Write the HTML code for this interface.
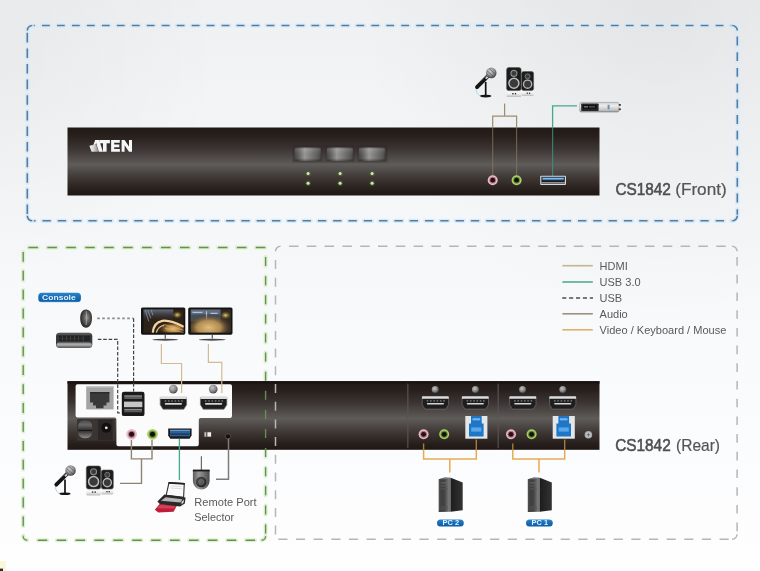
<!DOCTYPE html>
<html><head><meta charset="utf-8">
<style>
html,body{margin:0;padding:0;width:760px;height:571px;overflow:hidden;background:#f4f5f7;}
svg{display:block;font-family:"Liberation Sans",sans-serif;will-change:transform;}
</style></head>
<body>
<svg width="760" height="571" viewBox="0 0 760 571">
<defs>
  <linearGradient id="bg" x1="0" y1="0" x2="0" y2="1">
    <stop offset="0" stop-color="#eff0f2"/>
    <stop offset="0.175" stop-color="#f3f4f6"/>
    <stop offset="0.41" stop-color="#f6f7f9"/>
    <stop offset="0.7" stop-color="#fafbfc"/>
    <stop offset="1" stop-color="#fefeff"/>
  </linearGradient>
  <linearGradient id="dev" x1="0" y1="0" x2="0" y2="1">
    <stop offset="0" stop-color="#211916"/>
    <stop offset="0.12" stop-color="#271f1c"/>
    <stop offset="0.32" stop-color="#3c3533"/>
    <stop offset="0.545" stop-color="#5f5c5a"/>
    <stop offset="0.75" stop-color="#3d3633"/>
    <stop offset="0.92" stop-color="#261e1b"/>
    <stop offset="1" stop-color="#1f1714"/>
  </linearGradient>

  <linearGradient id="btn" x1="0" y1="0" x2="1" y2="0">
    <stop offset="0" stop-color="#484645"/>
    <stop offset="0.15" stop-color="#62605f"/>
    <stop offset="0.38" stop-color="#9a9896"/>
    <stop offset="0.7" stop-color="#737170"/>
    <stop offset="0.92" stop-color="#585655"/>
    <stop offset="1" stop-color="#3e3c3b"/>
  </linearGradient>
  <linearGradient id="btnv" x1="0" y1="0" x2="0" y2="1">
    <stop offset="0" stop-color="#000" stop-opacity="0.1"/>
    <stop offset="0.15" stop-color="#fff" stop-opacity="0.1"/>
    <stop offset="0.8" stop-color="#000" stop-opacity="0"/>
    <stop offset="1" stop-color="#000" stop-opacity="0.35"/>
  </linearGradient>

  <radialGradient id="mhead" cx="0.4" cy="0.35" r="0.7">
    <stop offset="0" stop-color="#d0d0d0"/>
    <stop offset="0.6" stop-color="#8a8a8a"/>
    <stop offset="1" stop-color="#3a3a3a"/>
  </radialGradient>
  <linearGradient id="spkbase" x1="0" y1="0" x2="0" y2="1">
    <stop offset="0" stop-color="#ffffff"/>
    <stop offset="0.6" stop-color="#f2f2f2"/>
    <stop offset="1" stop-color="#bdbdbd"/>
  </linearGradient>
  <symbol id="mic" overflow="visible">
    <path d="M-14.5 14 C-15.5 17 -15 20 -12 22.5 L-7 23.3" fill="none" stroke="#a9cfe6" stroke-width="0.9"/>
    <line x1="-5.5" y1="9" x2="-5.5" y2="22.8" stroke="#111" stroke-width="1.7"/>
    <ellipse cx="-5.5" cy="23.2" rx="5.6" ry="1.3" fill="#151515"/>
    <line x1="-2.5" y1="2.5" x2="-14.2" y2="14.2" stroke="#141414" stroke-width="3.8" stroke-linecap="round"/>
    <line x1="-4.5" y1="1.8" x2="-10.5" y2="7.8" stroke="#9a9a9a" stroke-width="0.8"/>
    <line x1="-3.6" y1="3.9" x2="-5.4" y2="5.7" stroke="#cfcfcf" stroke-width="2"/>
    <circle cx="0" cy="0" r="5.3" fill="url(#mhead)"/>
    <path d="M-4 -2 L3 4 M-2 -4.3 L4.5 1.5 M-4.6 1 L0 5" stroke="#4a4a4a" stroke-width="0.6" fill="none"/>
  </symbol>
  <symbol id="spk" overflow="visible">
    <rect x="0" y="21" width="14.5" height="8.4" rx="0.8" fill="url(#spkbase)"/>
    <rect x="15" y="21" width="12" height="7.4" rx="0.8" fill="url(#spkbase)"/>
    <rect x="0" y="0" width="14.5" height="23" rx="2.2" fill="#1c1c1c" stroke="#555" stroke-width="0.6"/>
    <rect x="15" y="4" width="12" height="19" rx="2" fill="#1c1c1c" stroke="#555" stroke-width="0.6"/>
    <circle cx="7.3" cy="5.8" r="3" fill="#3a3a3a" stroke="#8a8a8a" stroke-width="1.1"/>
    <circle cx="7.3" cy="15.6" r="5" fill="#3a3a3a" stroke="#bcbcbc" stroke-width="1.5"/>
    <circle cx="21" cy="8.8" r="2.5" fill="#3a3a3a" stroke="#7a7a7a" stroke-width="1"/>
    <circle cx="21" cy="16.6" r="4.1" fill="#3a3a3a" stroke="#b4b4b4" stroke-width="1.4"/>
    <rect x="5.6" y="25.4" width="1.4" height="1.4" fill="#333"/>
    <rect x="8.2" y="25.4" width="1.4" height="1.4" fill="#333"/>
    <rect x="20" y="25" width="1.3" height="1.3" fill="#333"/>
    <rect x="22.3" y="25" width="1.3" height="1.3" fill="#333"/>
  </symbol>

  <linearGradient id="stick" x1="0" y1="0" x2="0" y2="1">
    <stop offset="0" stop-color="#fff" stop-opacity="0.2"/>
    <stop offset="0.35" stop-color="#fff" stop-opacity="0.7"/>
    <stop offset="0.7" stop-color="#fff" stop-opacity="0.1"/>
    <stop offset="1" stop-color="#000" stop-opacity="0.3"/>
  </linearGradient>

  <linearGradient id="pill" x1="0" y1="0" x2="0" y2="1">
    <stop offset="0" stop-color="#2c84c8"/>
    <stop offset="0.5" stop-color="#176cb4"/>
    <stop offset="0.88" stop-color="#105ea6"/>
    <stop offset="1" stop-color="#70b4e4"/>
  </linearGradient>
  <radialGradient id="mouseg" cx="0.55" cy="0.45" r="0.6">
    <stop offset="0" stop-color="#9a9896"/>
    <stop offset="0.45" stop-color="#5a5857"/>
    <stop offset="1" stop-color="#1e1d1c"/>
  </radialGradient>
  <linearGradient id="kbg" x1="0" y1="0" x2="0" y2="1">
    <stop offset="0" stop-color="#6a6a6a"/>
    <stop offset="0.2" stop-color="#3a3a3a"/>
    <stop offset="0.75" stop-color="#2a2a2a"/>
    <stop offset="0.85" stop-color="#8a8a8a"/>
    <stop offset="1" stop-color="#4a4a4a"/>
  </linearGradient>

  <radialGradient id="screw" cx="0.4" cy="0.35" r="0.65">
    <stop offset="0" stop-color="#c4c4c4"/>
    <stop offset="0.6" stop-color="#8a8a8a"/>
    <stop offset="1" stop-color="#4a4a4a"/>
  </radialGradient>
  <linearGradient id="rocker" x1="0" y1="0" x2="0" y2="1">
    <stop offset="0" stop-color="#4a4848"/>
    <stop offset="0.25" stop-color="#6a6868"/>
    <stop offset="0.5" stop-color="#3a3838"/>
    <stop offset="0.56" stop-color="#141212"/>
    <stop offset="0.62" stop-color="#3a3838"/>
    <stop offset="1" stop-color="#8e8c8c"/>
  </linearGradient>
  <symbol id="hdmi" overflow="visible">
    <path d="M0 1 H26.4 V8.4 L23.6 12.8 H2.8 L0 8.4Z" fill="#1e1e1e" stroke="#6e6e6e" stroke-width="0.7"/>
    <rect x="-0.2" y="0" width="26.8" height="2.5" rx="0.6" fill="#dcdcdc"/>
    <g fill="#8a8a8a"><rect x="4.5" y="4" width="1.6" height="1.2"/><rect x="7.8" y="4" width="1.6" height="1.2"/><rect x="11.1" y="4" width="1.6" height="1.2"/><rect x="14.4" y="4" width="1.6" height="1.2"/><rect x="17.7" y="4" width="1.6" height="1.2"/><rect x="21" y="4" width="1.6" height="1.2"/></g>
    <rect x="4.6" y="6.6" width="17.2" height="1.7" rx="0.8" fill="#d4d4d4"/>
  </symbol>

  <radialGradient id="gold1" cx="0.62" cy="0.7" r="0.55">
    <stop offset="0" stop-color="#e8c080"/>
    <stop offset="0.45" stop-color="#b08040"/>
    <stop offset="1" stop-color="#2a1e14" stop-opacity="0"/>
  </radialGradient>
  <radialGradient id="gold2" cx="0.45" cy="0.78" r="0.6">
    <stop offset="0" stop-color="#e0bc80"/>
    <stop offset="0.5" stop-color="#b08a50"/>
    <stop offset="1" stop-color="#3a2a1a" stop-opacity="0"/>
  </radialGradient>
  <radialGradient id="spot" cx="0.5" cy="0.5" r="0.5">
    <stop offset="0" stop-color="#f0d070"/>
    <stop offset="1" stop-color="#8a6a20" stop-opacity="0"/>
  </radialGradient>
  <linearGradient id="sky" x1="0" y1="0" x2="0" y2="1">
    <stop offset="0" stop-color="#7a8aa8"/>
    <stop offset="1" stop-color="#3a4250" stop-opacity="0"/>
  </linearGradient>
  <clipPath id="scr1"><rect x="0" y="0" width="40.5" height="23.5"/></clipPath>
  <symbol id="mon1" overflow="visible">
    <rect x="-2.3" y="-1.9" width="44.3" height="27.3" rx="1.6" fill="#161412"/>
    <g clip-path="url(#scr1)">
      <rect x="0" y="0" width="40.5" height="23.5" fill="#2c2218"/>
      <rect x="0" y="0" width="30" height="11" fill="url(#sky)" opacity="0.75"/>
      <path d="M2 1 L5.5 12 M4.5 1 L7.5 9 M8 0.5 L9.5 6" stroke="#98a8c4" stroke-width="0.9" opacity="0.75" fill="none"/>
      <rect x="12" y="10" width="28.5" height="13.5" fill="url(#gold1)"/>
      <path d="M20 15 L40.5 21 M22 19 L40.5 23.5" stroke="#e0b878" stroke-width="1" opacity="0.6" fill="none"/>
      <path d="M9.5 23.5 C10 17 13 12.5 19 11.5 C26 10.6 33 13.5 40.5 17.5" stroke="#f0d4a2" stroke-width="2.2" fill="none"/>
      <path d="M13 23.5 C14 19 17 16.5 21 16" stroke="#d8b480" stroke-width="1.2" fill="none"/>
      <ellipse cx="34" cy="5.6" rx="5" ry="3.8" fill="url(#spot)"/>
    </g>
    <rect x="21.4" y="25.4" width="1.1" height="3.8" fill="#444"/>
    <ellipse cx="22" cy="30.4" rx="12.8" ry="0.95" fill="#4a4a4a"/>
  </symbol>
  <symbol id="mon2" overflow="visible">
    <rect x="-2.3" y="-1.9" width="44.3" height="27.3" rx="1.6" fill="#161412"/>
    <g clip-path="url(#scr1)">
      <rect x="0" y="0" width="40.5" height="23.5" fill="#2e2a26"/>
      <rect x="0" y="0" width="30" height="12" fill="#66768e" opacity="0.9"/>
      <rect x="0" y="5" width="30" height="7" fill="#2a3038" opacity="0.5"/>
      <path d="M2 3 H12 M16 2 V10 M20 4 H27" stroke="#c8d4e6" stroke-width="1.2" opacity="0.8"/>
      <rect x="0" y="0" width="40.5" height="23.5" fill="url(#gold2)"/>
      <ellipse cx="35" cy="6" rx="5.5" ry="4" fill="url(#spot)"/>
    </g>
    <rect x="21.2" y="25.4" width="1.1" height="3.8" fill="#444"/>
    <ellipse cx="21.7" cy="30.4" rx="13.2" ry="0.95" fill="#4a4a4a"/>
  </symbol>

  <linearGradient id="rps" x1="0" y1="0" x2="1" y2="0">
    <stop offset="0" stop-color="#5a5a5a"/>
    <stop offset="0.35" stop-color="#9a9a9a"/>
    <stop offset="1" stop-color="#4a4a4a"/>
  </linearGradient>
  <radialGradient id="lens" cx="0.45" cy="0.45" r="0.55">
    <stop offset="0" stop-color="#6a6a6a"/>
    <stop offset="0.7" stop-color="#3a3a3a"/>
    <stop offset="1" stop-color="#1a1a1a"/>
  </radialGradient>

  <linearGradient id="twf" x1="0" y1="0" x2="1" y2="0">
    <stop offset="0" stop-color="#3a3a3a"/>
    <stop offset="0.5" stop-color="#444"/>
    <stop offset="0.85" stop-color="#7a7a7a"/>
    <stop offset="1" stop-color="#5a5a5a"/>
  </linearGradient>
  <linearGradient id="tws" x1="0" y1="0" x2="1" y2="0">
    <stop offset="0" stop-color="#1c1c1c"/>
    <stop offset="1" stop-color="#333"/>
  </linearGradient>
  <symbol id="tower" overflow="visible">
    <polygon points="0,1.8 6,0 12,0.3 12,34.4 0,34.6" fill="url(#twf)"/>
    <polygon points="12,0.3 24,5 24,32.8 12,34.4" fill="url(#tws)"/>
    <polygon points="0,1.8 6,0 12,0.3 6,1.9" fill="#8a8a8a" opacity="0.7"/>
    <rect x="2" y="5" width="7" height="1" fill="#6a6a6a"/>
    <rect x="2" y="8" width="7" height="1" fill="#5e5e5e"/>
    <rect x="2" y="11" width="7" height="1" fill="#555"/>
    <rect x="0.6" y="2.5" width="1" height="31" fill="#6a6a6a" opacity="0.6"/>
    <rect x="2" y="29" width="7" height="1" fill="#555"/>
    <rect x="2" y="31" width="7" height="1" fill="#555"/>
  </symbol>
  <symbol id="ports" overflow="visible">
    <circle cx="13.5" cy="-6.2" r="3.5" fill="url(#screw)"/>
    <circle cx="53.7" cy="-6.2" r="3.5" fill="url(#screw)"/>
    <use href="#hdmi" x="0.5" y="0.5"/>
    <use href="#hdmi" x="40.4" y="0.5"/>
    <circle cx="1.9" cy="38.5" r="5" fill="#e3b8c8"/>
    <circle cx="1.9" cy="38.5" r="3.4" fill="#a8707e"/>
    <circle cx="1.9" cy="38.5" r="2.4" fill="#2a0c12"/>
    <circle cx="22.5" cy="38.5" r="5" fill="#a6cc66"/>
    <circle cx="22.5" cy="38.5" r="3.4" fill="#5c7a30"/>
    <circle cx="22.5" cy="38.5" r="2.4" fill="#0e140a"/>
    <rect x="43.6" y="20.2" width="22.1" height="22.7" fill="#e4e6e8"/>
    <path d="M49.3 20.2 H60 V27.8 H61.9 V40.6 H47.3 V27.8 H49.3Z" fill="#1e76c6"/>
    <rect x="50.8" y="22.5" width="7.6" height="2" fill="#7ab8ec"/>
    <rect x="49.5" y="31.6" width="10.2" height="4.2" fill="#5aa6e6"/>
  </symbol>
  <linearGradient id="pcpill" x1="0" y1="0" x2="0" y2="1">
    <stop offset="0" stop-color="#3aa0e0"/>
    <stop offset="0.6" stop-color="#1470c0"/>
    <stop offset="1" stop-color="#90c8ee"/>
  </linearGradient>

  <linearGradient id="kbl" x1="0" y1="0" x2="0" y2="1">
    <stop offset="0" stop-color="#8a8a8a"/>
    <stop offset="0.5" stop-color="#b0b0b0"/>
    <stop offset="1" stop-color="#5a5a5a"/>
  </linearGradient>

  <radialGradient id="bgr" gradientUnits="userSpaceOnUse" cx="660" cy="20" r="300">
    <stop offset="0" stop-color="#000" stop-opacity="0.05"/>
    <stop offset="1" stop-color="#000" stop-opacity="0"/>
  </radialGradient>
  <radialGradient id="bgl" gradientUnits="userSpaceOnUse" cx="0" cy="60" r="220">
    <stop offset="0" stop-color="#000" stop-opacity="0.034"/>
    <stop offset="1" stop-color="#000" stop-opacity="0"/>
  </radialGradient>
</defs>
<rect x="0" y="0" width="760" height="571" fill="url(#bg)"/>
<rect x="0" y="0" width="760" height="571" fill="url(#bgr)"/>
<rect x="0" y="0" width="760" height="571" fill="url(#bgl)"/>

<!-- FRONT box -->
<path d="M27.299999999999997 30.5A5 5 0 0 1 32.3 25.5M732.3 25.5A5 5 0 0 1 737.3 30.5M737.3 215.8A5 5 0 0 1 732.3 220.8M32.3 220.8A5 5 0 0 1 27.299999999999997 215.8M33.80 25.5H34.83M42.00 25.5H49.80M56.97 25.5H64.77M71.94 25.5H79.74M86.91 25.5H94.71M101.88 25.5H109.68M116.85 25.5H124.65M131.82 25.5H139.62M146.79 25.5H154.59M161.76 25.5H169.56M176.73 25.5H184.53M191.70 25.5H199.50M206.67 25.5H214.47M221.64 25.5H229.44M236.61 25.5H244.41M251.58 25.5H259.38M266.55 25.5H274.35M281.52 25.5H289.32M296.49 25.5H304.29M311.46 25.5H319.26M326.43 25.5H334.23M341.40 25.5H349.20M356.37 25.5H364.17M371.34 25.5H379.14M386.31 25.5H394.11M401.28 25.5H409.08M416.25 25.5H424.05M431.22 25.5H439.02M446.19 25.5H453.99M461.16 25.5H468.96M476.13 25.5H483.93M491.10 25.5H498.90M506.07 25.5H513.87M521.04 25.5H528.84M536.01 25.5H543.81M550.98 25.5H558.78M565.95 25.5H573.75M580.92 25.5H588.72M595.89 25.5H603.69M610.86 25.5H618.66M625.83 25.5H633.63M640.80 25.5H648.60M655.77 25.5H663.57M670.74 25.5H678.54M685.71 25.5H693.51M700.68 25.5H708.48M715.65 25.5H723.45M730.62 25.5H731.30M737.3 36.60V45.40M737.3 52.30V61.10M737.3 68.00V76.80M737.3 83.70V92.50M737.3 99.40V108.20M737.3 115.10V123.90M737.3 130.80V139.60M737.3 146.50V155.30M737.3 162.20V171.00M737.3 177.90V186.70M737.3 193.60V202.40M737.3 209.30V214.80M33.80 220.8H35.50M42.50 220.8H50.80M57.80 220.8H66.10M73.10 220.8H81.40M88.40 220.8H96.70M103.70 220.8H112.00M119.00 220.8H127.30M134.30 220.8H142.60M149.60 220.8H157.90M164.90 220.8H173.20M180.20 220.8H188.50M195.50 220.8H203.80M210.80 220.8H219.10M226.10 220.8H234.40M241.40 220.8H249.70M256.70 220.8H265.00M272.00 220.8H280.30M287.30 220.8H295.60M302.60 220.8H310.90M317.90 220.8H326.20M333.20 220.8H341.50M348.50 220.8H356.80M363.80 220.8H372.10M379.10 220.8H387.40M394.40 220.8H402.70M409.70 220.8H418.00M425.00 220.8H433.30M440.30 220.8H448.60M455.60 220.8H463.90M470.90 220.8H479.20M486.20 220.8H494.50M501.50 220.8H509.80M516.80 220.8H525.10M532.10 220.8H540.40M547.40 220.8H555.70M562.70 220.8H571.00M578.00 220.8H586.30M593.30 220.8H601.60M608.60 220.8H616.90M623.90 220.8H632.20M639.20 220.8H647.50M654.50 220.8H662.80M669.80 220.8H678.10M685.10 220.8H693.40M700.40 220.8H708.70M715.70 220.8H724.00M731.00 220.8H731.30M27.3 32.80V42.40M27.3 48.40V58.00M27.3 64.00V73.60M27.3 79.60V89.20M27.3 95.20V104.80M27.3 110.80V120.40M27.3 126.40V136.00M27.3 142.00V151.60M27.3 157.60V167.20M27.3 173.20V182.80M27.3 188.80V198.40M27.3 204.40V214.00" fill="none" stroke="#d2e8f8" stroke-width="4.2" stroke-linecap="round" opacity="0.8"/>
<path d="M27.299999999999997 30.5A5 5 0 0 1 32.3 25.5M732.3 25.5A5 5 0 0 1 737.3 30.5M737.3 215.8A5 5 0 0 1 732.3 220.8M32.3 220.8A5 5 0 0 1 27.299999999999997 215.8M33.80 25.5H34.83M42.00 25.5H49.80M56.97 25.5H64.77M71.94 25.5H79.74M86.91 25.5H94.71M101.88 25.5H109.68M116.85 25.5H124.65M131.82 25.5H139.62M146.79 25.5H154.59M161.76 25.5H169.56M176.73 25.5H184.53M191.70 25.5H199.50M206.67 25.5H214.47M221.64 25.5H229.44M236.61 25.5H244.41M251.58 25.5H259.38M266.55 25.5H274.35M281.52 25.5H289.32M296.49 25.5H304.29M311.46 25.5H319.26M326.43 25.5H334.23M341.40 25.5H349.20M356.37 25.5H364.17M371.34 25.5H379.14M386.31 25.5H394.11M401.28 25.5H409.08M416.25 25.5H424.05M431.22 25.5H439.02M446.19 25.5H453.99M461.16 25.5H468.96M476.13 25.5H483.93M491.10 25.5H498.90M506.07 25.5H513.87M521.04 25.5H528.84M536.01 25.5H543.81M550.98 25.5H558.78M565.95 25.5H573.75M580.92 25.5H588.72M595.89 25.5H603.69M610.86 25.5H618.66M625.83 25.5H633.63M640.80 25.5H648.60M655.77 25.5H663.57M670.74 25.5H678.54M685.71 25.5H693.51M700.68 25.5H708.48M715.65 25.5H723.45M730.62 25.5H731.30M737.3 36.60V45.40M737.3 52.30V61.10M737.3 68.00V76.80M737.3 83.70V92.50M737.3 99.40V108.20M737.3 115.10V123.90M737.3 130.80V139.60M737.3 146.50V155.30M737.3 162.20V171.00M737.3 177.90V186.70M737.3 193.60V202.40M737.3 209.30V214.80M33.80 220.8H35.50M42.50 220.8H50.80M57.80 220.8H66.10M73.10 220.8H81.40M88.40 220.8H96.70M103.70 220.8H112.00M119.00 220.8H127.30M134.30 220.8H142.60M149.60 220.8H157.90M164.90 220.8H173.20M180.20 220.8H188.50M195.50 220.8H203.80M210.80 220.8H219.10M226.10 220.8H234.40M241.40 220.8H249.70M256.70 220.8H265.00M272.00 220.8H280.30M287.30 220.8H295.60M302.60 220.8H310.90M317.90 220.8H326.20M333.20 220.8H341.50M348.50 220.8H356.80M363.80 220.8H372.10M379.10 220.8H387.40M394.40 220.8H402.70M409.70 220.8H418.00M425.00 220.8H433.30M440.30 220.8H448.60M455.60 220.8H463.90M470.90 220.8H479.20M486.20 220.8H494.50M501.50 220.8H509.80M516.80 220.8H525.10M532.10 220.8H540.40M547.40 220.8H555.70M562.70 220.8H571.00M578.00 220.8H586.30M593.30 220.8H601.60M608.60 220.8H616.90M623.90 220.8H632.20M639.20 220.8H647.50M654.50 220.8H662.80M669.80 220.8H678.10M685.10 220.8H693.40M700.40 220.8H708.70M715.70 220.8H724.00M731.00 220.8H731.30M27.3 32.80V42.40M27.3 48.40V58.00M27.3 64.00V73.60M27.3 79.60V89.20M27.3 95.20V104.80M27.3 110.80V120.40M27.3 126.40V136.00M27.3 142.00V151.60M27.3 157.60V167.20M27.3 173.20V182.80M27.3 188.80V198.40M27.3 204.40V214.00" fill="none" stroke="#4f7fa8" stroke-width="1.6"/>

<!-- front device -->
<rect x="67.5" y="127.5" width="532" height="68" fill="url(#dev)"/>


<!-- ATEN logo -->
<defs><linearGradient id="alg" x1="0" y1="0" x2="1" y2="0"><stop offset="0" stop-color="#fafafa"/><stop offset="0.45" stop-color="#d8d6d4"/><stop offset="1" stop-color="#8a8785"/></linearGradient></defs>
<g fill="#f6f6f6">
<polygon points="95.2,140 99.2,140 102.9,151.7 98.9,151.7"/>
<polygon points="95.2,140 97.2,140 95.6,144.6 93.2,145.2"/>
<polygon points="89.4,145.8 96.2,144.3 98.6,151.7 91.6,151.7" fill="url(#alg)"/>
<rect x="99.4" y="140" width="10.5" height="3.3"/>
<rect x="103" y="140" width="3.6" height="11.7"/>
<path d="M111.1 140 H119.8 V142.8 H114.2 V144.5 H119.3 V147.3 H114.2 V149 H119.9 V151.7 H111.1Z"/>
<path d="M121.6 140 H124.6 L129 146.4 V140 H132 V151.7 H129 L124.6 145.3 V151.7 H121.6Z"/>
</g>
<!-- buttons -->
<g>
  <rect x="292.5" y="145.5" width="31" height="17" fill="#2c2624" opacity="0.35"/>
  <rect x="324.5" y="145.5" width="31" height="17" fill="#2c2624" opacity="0.35"/>
  <rect x="356.5" y="145.5" width="31" height="17" fill="#2c2624" opacity="0.35"/>
  <rect x="294.6" y="147.5" width="26.4" height="13.4" rx="1.5" fill="url(#btn)"/>
  <rect x="326.8" y="147.5" width="26.4" height="13.4" rx="1.5" fill="url(#btn)"/>
  <rect x="358.9" y="147.5" width="26.4" height="13.4" rx="1.5" fill="url(#btn)"/>
  <rect x="294.6" y="147.5" width="26.4" height="13.4" rx="1.5" fill="url(#btnv)"/>
  <rect x="326.8" y="147.5" width="26.4" height="13.4" rx="1.5" fill="url(#btnv)"/>
  <rect x="358.9" y="147.5" width="26.4" height="13.4" rx="1.5" fill="url(#btnv)"/>
</g>
<!-- LEDs -->
<g fill="#dbe4c2">
  <circle cx="308.1" cy="173.5" r="2.6" fill="#4e6a2a" opacity="0.7"/>
  <circle cx="308.1" cy="183.2" r="2.6" fill="#4e6a2a" opacity="0.7"/>
  <circle cx="340.1" cy="173.5" r="2.6" fill="#4e6a2a" opacity="0.7"/>
  <circle cx="340.1" cy="183.2" r="2.6" fill="#4e6a2a" opacity="0.7"/>
  <circle cx="372.1" cy="173.5" r="2.6" fill="#4e6a2a" opacity="0.7"/>
  <circle cx="372.1" cy="183.2" r="2.6" fill="#4e6a2a" opacity="0.7"/>
  <circle cx="308.1" cy="173.5" r="1.5"/>
  <circle cx="308.1" cy="183.2" r="1.5"/>
  <circle cx="340.1" cy="173.5" r="1.5"/>
  <circle cx="340.1" cy="183.2" r="1.5"/>
  <circle cx="372.1" cy="173.5" r="1.5"/>
  <circle cx="372.1" cy="183.2" r="1.5"/>
</g>

<!-- front mic / speakers / usb stick -->
<use href="#mic" x="491.2" y="72.9"/>
<use href="#spk" x="506.6" y="67.6"/>
<g>
  <rect x="579.8" y="102.4" width="39" height="9.7" rx="1.5" fill="#c4c4c4" stroke="#8a8a8a" stroke-width="0.6"/>
  <rect x="579.8" y="102.4" width="39" height="9.7" rx="1.5" fill="url(#stick)"/>
  <rect x="581.2" y="103.4" width="17.4" height="7.6" rx="0.8" fill="#262626"/>
  <rect x="583" y="105" width="13.5" height="3.8" fill="#111"/>
  <rect x="584" y="106" width="4" height="1.6" fill="#6a6a6a"/>
  <rect x="589" y="106" width="6" height="1.6" fill="#4a4a4a"/>
  <rect x="607.6" y="104.8" width="2" height="4.6" fill="#6a90c0"/>
  <rect x="618.8" y="104" width="2" height="1.8" fill="#3a3a3a"/>
  <rect x="618.8" y="108.4" width="2" height="1.8" fill="#3a3a3a"/>
</g>
<!-- front audio lines -->
<g fill="none" stroke="#a08c6c" stroke-width="1.2">
  <path d="M504.6 103.5 V116.2 M492.7 127.5 V116.2 H516.6 V127.5"/>
</g>
<path d="M492.7 127.5 V175 M516.6 127.5 V175" fill="none" stroke="#8a7a62" stroke-width="1.1" opacity="0.7"/>
<!-- front usb 3.0 line -->
<path d="M552.6 127.5 V105.8 H577" fill="none" stroke="#45a98c" stroke-width="1.3"/>
<path d="M552.6 176 V127.5" fill="none" stroke="#3a9a80" stroke-width="1.2" opacity="0.75"/>
<!-- front jacks -->
<circle cx="492.7" cy="180.2" r="5" fill="#e9bccb"/>
<circle cx="492.7" cy="180.2" r="3.4" fill="#b07a88"/>
<circle cx="492.7" cy="180.2" r="2.4" fill="#2a0c12"/>
<circle cx="516.6" cy="180.2" r="5" fill="#a9d06a"/>
<circle cx="516.6" cy="180.2" r="3.4" fill="#6c8a3a"/>
<circle cx="516.6" cy="180.2" r="2.4" fill="#0f140a"/>
<!-- front usb port -->
<rect x="540.2" y="175.8" width="25.8" height="9.2" rx="1" fill="#d8d8d8"/>
<rect x="541.4" y="176.8" width="23.4" height="7.2" fill="#1c1c1e"/>
<rect x="542.5" y="177.4" width="21.2" height="2.8" fill="#3d7fc0"/>
<rect x="542.5" y="178.3" width="21.2" height="0.8" fill="#a8d0f0"/>
<rect x="541.4" y="182.4" width="23.4" height="1" fill="#e0e0e0"/>

<!-- green halo -->
<path d="M27.2 540.2A4 4 0 0 1 23.2 536.2M265.6 536.2A4 4 0 0 1 261.6 540.2M28.40 247.5H37.90M47.35 247.5H56.85M66.30 247.5H75.80M85.25 247.5H94.75M104.20 247.5H113.70M123.15 247.5H132.65M142.10 247.5H151.60M161.05 247.5H170.55M180.00 247.5H189.50M198.95 247.5H208.45M217.90 247.5H227.40M236.85 247.5H246.35M255.80 247.5H265.30M265.6 257.10V266.10M265.6 276.20V285.20M265.6 295.30V304.30M265.6 314.40V323.40M265.6 333.50V342.50M265.6 352.60V361.60M265.6 371.70V380.70M265.6 390.80V399.80M265.6 409.90V418.90M265.6 429.00V438.00M265.6 448.10V457.10M265.6 467.20V476.20M265.6 486.30V495.30M265.6 505.40V514.40M265.6 524.50V533.50M37.80 540.2H47.20M56.70 540.2H66.10M75.60 540.2H85.00M94.50 540.2H103.90M113.40 540.2H122.80M132.30 540.2H141.70M151.20 540.2H160.60M170.10 540.2H179.50M189.00 540.2H198.40M207.90 540.2H217.30M226.80 540.2H236.20M245.70 540.2H255.10M23.2 251.90V261.70M23.2 270.80V280.60M23.2 289.70V299.50M23.2 308.60V318.40M23.2 327.50V337.30M23.2 346.40V356.20M23.2 365.30V375.10M23.2 384.20V394.00M23.2 403.10V412.90M23.2 422.00V431.80M23.2 440.90V450.70M23.2 459.80V469.60M23.2 478.70V488.50M23.2 497.60V507.40M23.2 516.50V526.30M23.2 535.40V535.70" fill="none" stroke="#d6efc6" stroke-width="4" stroke-linecap="round" opacity="0.8"/>
<!-- rear device -->
<rect x="67.5" y="381.2" width="532" height="68.6" fill="url(#dev)"/>
<rect x="67.5" y="381.2" width="532" height="2.4" fill="#1a1311"/>
<!-- white panel -->
<path d="M75.6 386.3 Q75.6 384.3 77.6 384.3 H230 Q232 384.3 232 386.3 V416 Q232 418 230 418 H200.8 Q198.8 418 198.8 420 V444.2 Q198.8 446.2 196.8 446.2 H118.4 Q116.4 446.2 116.4 444.2 V419.5 Q116.4 417.5 114.4 417.5 H77.6 Q75.6 417.5 75.6 415.5Z" fill="#fbfbfb"/>
<!-- RJ45 -->
<rect x="86.2" y="386.4" width="27.4" height="23" fill="#a4a4a4"/>
<rect x="86.2" y="386.4" width="27.4" height="1.2" fill="#c0c0c0"/>
<path d="M90 392 H109.4 V402.5 H106.5 V405.5 H103.5 V408.2 H96 V405.5 H93 V402.5 H90Z" fill="#3a3a3a"/>
<rect x="90" y="392" width="19.4" height="1.5" fill="#2a2a2a"/>
<!-- stacked usb -->
<rect x="121.8" y="391.8" width="22.7" height="24.3" rx="2.2" fill="#1a1a1a"/>
<rect x="124.3" y="395.4" width="17.7" height="3.6" fill="#5a5a5a"/>
<rect x="124.3" y="395.4" width="17.7" height="1.2" fill="#8a8a8a"/>
<rect x="124" y="401.6" width="18.3" height="5.6" fill="#c6c6c6"/>
<rect x="124.3" y="408.9" width="17.7" height="3.4" fill="#5a5a5a"/>
<rect x="124.3" y="408.9" width="17.7" height="1.1" fill="#8a8a8a"/>
<!-- HDMI + screws -->
<circle cx="173.3" cy="389.1" r="4.4" fill="url(#screw)"/>
<circle cx="213.2" cy="389.1" r="4.4" fill="url(#screw)"/>
<use href="#hdmi" x="160.2" y="396.4"/>
<use href="#hdmi" x="200.4" y="396.4"/>
<!-- power area -->
<rect x="77" y="419" width="38.4" height="21.8" fill="#3a3432"/>
<rect x="78.2" y="420.3" width="14" height="18" rx="6" fill="url(#rocker)"/>
<rect x="98" y="419.5" width="14.6" height="20.9" fill="#2c2624"/>
<circle cx="106.3" cy="427.8" r="5" fill="#111"/>
<circle cx="106.3" cy="427.8" r="1.4" fill="#e8e8e8"/>
<!-- audio jacks rear left -->
<circle cx="131.6" cy="434.3" r="5.4" fill="#e9bccb"/>
<circle cx="131.6" cy="434.3" r="3.6" fill="#b07a88"/>
<circle cx="131.6" cy="434.3" r="2.5" fill="#2a0c12"/>
<circle cx="152.5" cy="434.3" r="5.4" fill="#a9d06a"/>
<circle cx="152.5" cy="434.3" r="3.6" fill="#6c8a3a"/>
<circle cx="152.5" cy="434.3" r="2.5" fill="#0f140a"/>
<!-- usb 3.0 A rear -->
<path d="M168.2 428.4 H191.6 V435.5 L189.5 438.8 H170.3 L168.2 435.5Z" fill="#1a1a1a"/>
<rect x="170" y="429.8" width="20" height="6.5" fill="#2e5f96"/>
<rect x="170" y="429.8" width="20" height="1.2" fill="#6a9ac8"/>
<rect x="170.5" y="433.6" width="19" height="1" fill="#0e2a4a"/>
<!-- small switch + remote port -->
<rect x="204.2" y="431.8" width="7.2" height="5.2" fill="#6a6462"/>
<rect x="207.5" y="432.3" width="3.5" height="4.2" fill="#f0f0f0"/>
<rect x="204.6" y="432.3" width="1.2" height="4.2" fill="#d0d0d0"/>
<circle cx="228" cy="436.4" r="2.6" fill="#120e0d" stroke="#5a5452" stroke-width="0.8"/>

<!-- HDMI lines left -->
<path d="M161.4 343.9 V363.5 H181.6 V393 M208.4 343.9 V362.4 H221.8 V393" fill="none" stroke="#d0bc92" stroke-width="1.2"/>
<!-- rear left audio line -->
<path d="M131.4 440 V458.9 H152 V440 M141.5 458.9 V483.4 H120" fill="none" stroke="#8e8474" stroke-width="1.4"/>
<!-- teal line to printer -->
<path d="M179.4 438.8 V480" fill="none" stroke="#45a98c" stroke-width="1.3"/>
<!-- remote line -->
<path d="M228.5 438.5 V479.2 H216" fill="none" stroke="#7c7c7c" stroke-width="1.5"/>
<path d="M201.4 456.3 V470.5" stroke="#6a6a6a" stroke-width="1.2"/>
<!-- rear mic & speakers -->
<use href="#mic" x="70.5" y="470.5"/>
<use href="#spk" x="86.3" y="466"/>
<!-- printer -->
<g>
  <polygon points="154.8,509.8 159.6,504 177,505.2 173.6,511.8 158.4,512.4" fill="#c01c38"/>
  <polygon points="156.5,508.2 160.2,505 175.5,505.8 174,508.6" fill="#dc4a64" opacity="0.8"/>
  <polygon points="169,482.6 184.3,483.6 183.6,497.2 166.2,495.2" fill="#fafafa" stroke="#2e2e2e" stroke-width="1.1"/>
  <line x1="168.6" y1="482.8" x2="184.6" y2="483.8" stroke="#222" stroke-width="1.8"/>
  <g stroke="#c8c8c8" stroke-width="0.6"><line x1="171" y1="486" x2="182" y2="486.7"/><line x1="170.6" y1="488" x2="181.8" y2="488.7"/></g>
  <polygon points="157.4,501.6 164.4,494.6 185.6,497.4 184.8,503.4 180.2,506.6 160,504.2" fill="#2a2828"/>
  <polygon points="161,500.8 165.6,497.2 182.4,499.2 180.6,502.4" fill="#b8b6b6"/>
  <polygon points="181.5,502 184,499.5 183.5,502.5 181.6,504.5" fill="#e8e8e8"/>
</g>
<!-- remote port selector -->
<path d="M192.9 470 H209.6 V481 A8.35 8.6 0 0 1 192.9 481Z" fill="url(#rps)"/>
<rect x="192.9" y="469.6" width="16.7" height="1.8" fill="#1a1a1a"/>
<circle cx="201.2" cy="482" r="5.2" fill="url(#lens)"/>
<circle cx="201.2" cy="482" r="2.4" fill="none" stroke="#7a7a7a" stroke-width="0.6"/>
<!-- Remote Port Selector text -->
<text x="194.3" y="505.6" font-size="11.8" fill="#5a5a5a" textLength="62.3" lengthAdjust="spacingAndGlyphs">Remote Port</text>
<text x="194.3" y="521.3" font-size="11.8" fill="#5a5a5a" textLength="39.8" lengthAdjust="spacingAndGlyphs">Selector</text>

<!-- right rear panel -->
<rect x="407" y="383.6" width="1.6" height="64.5" fill="#5a5452" opacity="0.7"/>
<rect x="497.4" y="383.6" width="1.6" height="64.5" fill="#5a5452" opacity="0.7"/>
<use href="#ports" x="421.7" y="395.8"/>
<use href="#ports" x="509.1" y="395.8"/>
<circle cx="588.4" cy="434.8" r="3.8" fill="#a8a8a8"/>
<circle cx="588.4" cy="434.8" r="2.6" fill="#c8c8c8"/>
<path d="M586.6 434.8 H590.2 M588.4 433 V436.6" stroke="#5a5a5a" stroke-width="0.8"/>
<!-- orange lines -->
<path d="M423.6 449.8 V458.9 H476.3 V449.8 M449.8 458.9 V472.5 M512.8 449.8 V458.9 H564.7 V449.8 M539 458.9 V472.5" fill="none" stroke="#e6ab52" stroke-width="1.5"/>
<path d="M423.6 443.5 V449.8 M476.3 439.5 V449.8 M512.8 443.5 V449.8 M564.7 439.5 V449.8" fill="none" stroke="#c89440" stroke-width="1.4" opacity="0.8"/>
<!-- towers -->
<use href="#tower" x="438.7" y="477.4"/>
<use href="#tower" x="527.8" y="477.4"/>
<!-- PC labels -->
<rect x="437" y="519.4" width="26.8" height="7.4" rx="3.7" fill="url(#pill)"/>
<text x="442.6" y="525.4" font-size="6.4" font-weight="bold" fill="#def2ff" textLength="16.5" lengthAdjust="spacingAndGlyphs">PC 2</text>
<rect x="526" y="519.4" width="26.8" height="7.4" rx="3.7" fill="url(#pill)"/>
<text x="531.6" y="525.4" font-size="6.4" font-weight="bold" fill="#def2ff" textLength="16.5" lengthAdjust="spacingAndGlyphs">PC 1</text>
<!-- legend -->
<g stroke-width="1.6">
  <line x1="562.4" y1="265.7" x2="592.8" y2="265.7" stroke="#c4b48f"/>
  <line x1="562.4" y1="282" x2="592.8" y2="282" stroke="#55a98e"/>
  <line x1="562.2" y1="298" x2="593" y2="298" stroke="#4e4e4e" stroke-width="1.4" stroke-dasharray="4.1 2.8"/>
  <line x1="562.4" y1="313.8" x2="592.8" y2="313.8" stroke="#9c917f"/>
  <line x1="562.4" y1="329.8" x2="592.8" y2="329.8" stroke="#e0b06a"/>
</g>
<g font-size="11" fill="#5a5a5a">
  <text x="599.6" y="269.7">HDMI</text>
  <text x="599.6" y="285.8">USB 3.0</text>
  <text x="599.6" y="301.8">USB</text>
  <text x="599.6" y="317.8">Audio</text>
  <text x="599.6" y="333.8" textLength="126.8" lengthAdjust="spacingAndGlyphs">Video / Keyboard / Mouse</text>
</g>
<!-- USB dashed lines -->
<path d="M97.2 318.3 H133.4" fill="none" stroke="#8c8c8c" stroke-width="1.7" stroke-dasharray="2.6 2.4"/>
<path d="M133.6 318.3 V391.5 M97.8 339.4 H117.7 V412.8 H121" fill="none" stroke="#444" stroke-width="1.2" stroke-dasharray="3.6 1.8"/>

<text x="615.4" y="195" font-size="16.6" fill="#4f4f4f" stroke="#4f4f4f" stroke-width="0.55" textLength="55.5" lengthAdjust="spacingAndGlyphs">CS1842</text>
<text x="675.2" y="195" font-size="16.6" fill="#555" stroke="#555" stroke-width="0.2" textLength="51.5" lengthAdjust="spacingAndGlyphs">(Front)</text>
<text x="615.2" y="451" font-size="16.6" fill="#4f4f4f" stroke="#4f4f4f" stroke-width="0.55" textLength="55.5" lengthAdjust="spacingAndGlyphs">CS1842</text>
<text x="676" y="451" font-size="16.6" fill="#555" stroke="#555" stroke-width="0.2" textLength="44" lengthAdjust="spacingAndGlyphs">(Rear)</text>


<!-- console -->
<rect x="38.3" y="292.7" width="42.6" height="9.6" rx="3.6" fill="url(#pill)"/>
<text x="42.1" y="299.8" font-size="7.8" font-weight="bold" fill="#def2ff" textLength="33.6" lengthAdjust="spacingAndGlyphs">Console</text>
<!-- mouse -->
<path d="M86 309.4 C90 309.4 92 313 92 318 C92 324 89.5 327.7 86 327.7 C82.5 327.7 80.2 324 80.2 318 C80.2 313 82 309.4 86 309.4Z" fill="url(#mouseg)"/>
<path d="M86 311 C86.8 315 86.8 320 86 325" stroke="#b0aeac" stroke-width="0.9" fill="none" opacity="0.8"/>
<!-- keyboard -->
<rect x="56" y="332.8" width="36.3" height="14.9" rx="3.5" fill="#3a3a3a"/>
<rect x="56.5" y="342.4" width="35.3" height="5" rx="2.5" fill="url(#kbl)"/>
<rect x="57.2" y="333.4" width="34" height="1.2" rx="0.6" fill="#7a7a7a" opacity="0.8"/>
<g fill="#232323">
<rect x="58.6" y="335.6" width="24" height="2.4"/>
<rect x="58.6" y="338.6" width="24" height="2.6"/>
<rect x="84" y="335.6" width="6" height="5.6"/>
</g>
<g fill="#4e4e4e">
<rect x="62" y="335.8" width="0.6" height="5.2"/><rect x="66" y="335.8" width="0.6" height="5.2"/><rect x="70" y="335.8" width="0.6" height="5.2"/><rect x="74" y="335.8" width="0.6" height="5.2"/><rect x="78" y="335.8" width="0.6" height="5.2"/>
</g>

<!-- monitors -->
<use href="#mon1" x="143.3" y="309.3"/>
<use href="#mon2" x="190.5" y="309.3"/>
<!-- green box -->
<path d="M27.2 540.2A4 4 0 0 1 23.2 536.2M265.6 536.2A4 4 0 0 1 261.6 540.2M28.40 247.5H37.90M47.35 247.5H56.85M66.30 247.5H75.80M85.25 247.5H94.75M104.20 247.5H113.70M123.15 247.5H132.65M142.10 247.5H151.60M161.05 247.5H170.55M180.00 247.5H189.50M198.95 247.5H208.45M217.90 247.5H227.40M236.85 247.5H246.35M255.80 247.5H265.30M265.6 257.10V266.10M265.6 276.20V285.20M265.6 295.30V304.30M265.6 314.40V323.40M265.6 333.50V342.50M265.6 352.60V361.60M265.6 371.70V380.70M265.6 390.80V399.80M265.6 409.90V418.90M265.6 429.00V438.00M265.6 448.10V457.10M265.6 467.20V476.20M265.6 486.30V495.30M265.6 505.40V514.40M265.6 524.50V533.50M37.80 540.2H47.20M56.70 540.2H66.10M75.60 540.2H85.00M94.50 540.2H103.90M113.40 540.2H122.80M132.30 540.2H141.70M151.20 540.2H160.60M170.10 540.2H179.50M189.00 540.2H198.40M207.90 540.2H217.30M226.80 540.2H236.20M245.70 540.2H255.10M23.2 251.90V261.70M23.2 270.80V280.60M23.2 289.70V299.50M23.2 308.60V318.40M23.2 327.50V337.30M23.2 346.40V356.20M23.2 365.30V375.10M23.2 384.20V394.00M23.2 403.10V412.90M23.2 422.00V431.80M23.2 440.90V450.70M23.2 459.80V469.60M23.2 478.70V488.50M23.2 497.60V507.40M23.2 516.50V526.30M23.2 535.40V535.70" fill="none" stroke="#678f52" stroke-width="1.4"/>
<!-- gray box -->
<path d="M275.5 251.2A5 5 0 0 1 280.5 246.2M732.1 246.2A5 5 0 0 1 737.1 251.2M737.1 534.2A5 5 0 0 1 732.1 539.2M289.00 246.2H298.50M306.80 246.2H316.30M324.60 246.2H334.10M342.40 246.2H351.90M360.20 246.2H369.70M378.00 246.2H387.50M395.80 246.2H405.30M413.60 246.2H423.10M431.40 246.2H440.90M449.20 246.2H458.70M467.00 246.2H476.50M484.80 246.2H494.30M502.60 246.2H512.10M520.40 246.2H529.90M538.20 246.2H547.70M556.00 246.2H565.50M573.80 246.2H583.30M591.60 246.2H601.10M609.40 246.2H618.90M627.20 246.2H636.70M645.00 246.2H654.50M662.80 246.2H672.30M680.60 246.2H690.10M698.40 246.2H707.90M716.20 246.2H725.70M737.1 257.10V265.70M737.1 274.80V283.40M737.1 292.50V301.10M737.1 310.20V318.80M737.1 327.90V336.50M737.1 345.60V354.20M737.1 363.30V371.90M737.1 381.00V389.60M737.1 398.70V407.30M737.1 416.40V425.00M737.1 434.10V442.70M737.1 451.80V460.40M737.1 469.50V478.10M737.1 487.20V495.80M737.1 504.90V513.50M737.1 522.60V531.20M278.30 539.2H287.50M295.95 539.2H305.15M313.60 539.2H322.80M331.25 539.2H340.45M348.90 539.2H358.10M366.55 539.2H375.75M384.20 539.2H393.40M401.85 539.2H411.05M419.50 539.2H428.70M437.15 539.2H446.35M454.80 539.2H464.00M472.45 539.2H481.65M490.10 539.2H499.30M507.75 539.2H516.95M525.40 539.2H534.60M543.05 539.2H552.25M560.70 539.2H569.90M578.35 539.2H587.55M596.00 539.2H605.20M613.65 539.2H622.85M631.30 539.2H640.50M648.95 539.2H658.15M666.60 539.2H675.80M684.25 539.2H693.45M701.90 539.2H711.10M719.55 539.2H728.75M275.5 260.10V269.10M275.5 277.80V286.80M275.5 295.50V304.50M275.5 313.20V322.20M275.5 330.90V339.90M275.5 348.60V357.60M275.5 366.30V375.30M275.5 384.00V393.00M275.5 401.70V410.70M275.5 419.40V428.40M275.5 437.10V446.10M275.5 454.80V463.80M275.5 472.50V481.50M275.5 490.20V499.20M275.5 507.90V516.90M275.5 525.60V534.60" fill="none" stroke="#b6b6b6" stroke-width="1.5"/>
<rect x="0" y="561" width="6" height="10" fill="#f6f2c8" opacity="0.6"/>
<rect x="0" y="568.6" width="3" height="2.4" fill="#2a2a22"/>
</svg>
</body></html>
